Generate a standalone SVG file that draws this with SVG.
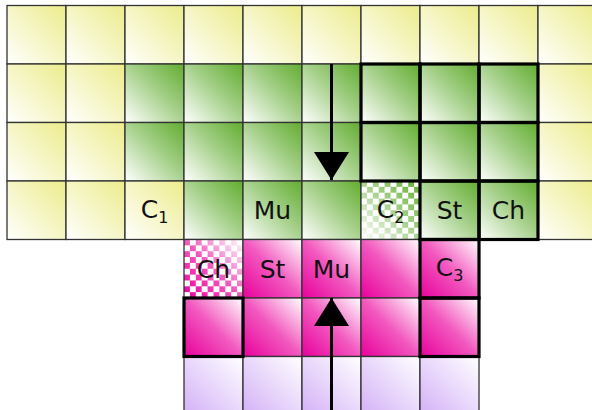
<svg xmlns="http://www.w3.org/2000/svg" width="592" height="410" viewBox="0 0 592 410">
  <style>
    .cell { stroke: #333; stroke-width: 1.3; }
    .y { fill: url(#gy); }
    .g { fill: url(#gg); }
    .m { fill: url(#gm); }
    .l { fill: url(#gl); }
    .bg { fill: #fff; stroke: none; }
    .bold { fill: none; stroke: #000; stroke-width: 3.2; }
    .lbl { font-family: "DejaVu Sans", Verdana, sans-serif; font-size: 25px; fill: #111; text-anchor: middle; }
    .sub { font-size: 16px; }
    .arrow { stroke: #000; stroke-width: 3; fill: none; marker-end: url(#head); }
  </style>
  <defs>
    <linearGradient id="gy" x1="0" y1="1" x2="1" y2="0">
      <stop offset="0" stop-color="#ffffff"/>
      <stop offset="1" stop-color="#ecec8c"/>
    </linearGradient>
    <linearGradient id="gg" x1="0" y1="1" x2="1" y2="0">
      <stop offset="0" stop-color="#ffffff"/>
      <stop offset="0.55" stop-color="#a3cf87"/>
      <stop offset="1" stop-color="#62ad30"/>
    </linearGradient>
    <linearGradient id="gm" x1="0" y1="1" x2="1" y2="0">
      <stop offset="0" stop-color="#e8009c"/>
      <stop offset="0.5" stop-color="#f259bf"/>
      <stop offset="1" stop-color="#ffffff"/>
    </linearGradient>
    <linearGradient id="gl" x1="0" y1="1" x2="1" y2="0">
      <stop offset="0" stop-color="#d3b0f7"/>
      <stop offset="1" stop-color="#ffffff"/>
    </linearGradient>
    <!-- checkerboard masks, aligned to their cells -->
    <pattern id="chkA" patternUnits="userSpaceOnUse" x="361" y="181" width="11.8" height="11.7">
      <rect x="0" y="0" width="5.9" height="5.85" fill="#fff"/>
      <rect x="5.9" y="5.85" width="5.9" height="5.85" fill="#fff"/>
    </pattern>
    <pattern id="chkB" patternUnits="userSpaceOnUse" x="184" y="239.5" width="11.8" height="11.7">
      <rect x="0" y="0" width="5.9" height="5.85" fill="#fff"/>
      <rect x="5.9" y="5.85" width="5.9" height="5.85" fill="#fff"/>
    </pattern>
    <mask id="maskA" maskUnits="userSpaceOnUse" x="361" y="181" width="59" height="58.5">
      <rect x="361" y="181" width="59" height="58.5" fill="url(#chkA)"/>
    </mask>
    <mask id="maskB" maskUnits="userSpaceOnUse" x="184" y="239.5" width="59" height="58.5">
      <rect x="184" y="239.5" width="59" height="58.5" fill="url(#chkB)"/>
    </mask>
    <marker id="head" markerUnits="userSpaceOnUse" markerWidth="30" markerHeight="36" refX="28" refY="17.5" orient="auto" viewBox="0 0 30 36">
      <path d="M0,0 L28,17.5 L0,35 Z" fill="#000"/>
    </marker>
  </defs>

  <!-- row 0 -->
  <g id="r0c0"><rect class="cell y" x="7" y="5.5" width="59" height="58.5"/></g>
  <g id="r0c1"><rect class="cell y" x="66" y="5.5" width="59" height="58.5"/></g>
  <g id="r0c2"><rect class="cell y" x="125" y="5.5" width="59" height="58.5"/></g>
  <g id="r0c3"><rect class="cell y" x="184" y="5.5" width="59" height="58.5"/></g>
  <g id="r0c4"><rect class="cell y" x="243" y="5.5" width="59" height="58.5"/></g>
  <g id="r0c5"><rect class="cell y" x="302" y="5.5" width="59" height="58.5"/></g>
  <g id="r0c6"><rect class="cell y" x="361" y="5.5" width="59" height="58.5"/></g>
  <g id="r0c7"><rect class="cell y" x="420" y="5.5" width="59" height="58.5"/></g>
  <g id="r0c8"><rect class="cell y" x="479" y="5.5" width="59" height="58.5"/></g>
  <g id="r0c9"><rect class="cell y" x="538" y="5.5" width="59" height="58.5"/></g>

  <!-- row 1 -->
  <g id="r1c0"><rect class="cell y" x="7" y="64" width="59" height="58.5"/></g>
  <g id="r1c1"><rect class="cell y" x="66" y="64" width="59" height="58.5"/></g>
  <g id="r1c2"><rect class="cell g" x="125" y="64" width="59" height="58.5"/></g>
  <g id="r1c3"><rect class="cell g" x="184" y="64" width="59" height="58.5"/></g>
  <g id="r1c4"><rect class="cell g" x="243" y="64" width="59" height="58.5"/></g>
  <g id="r1c5"><rect class="cell g" x="302" y="64" width="59" height="58.5"/></g>
  <g id="r1c6"><rect class="cell g" x="361" y="64" width="59" height="58.5"/></g>
  <g id="r1c7"><rect class="cell g" x="420" y="64" width="59" height="58.5"/></g>
  <g id="r1c8"><rect class="cell g" x="479" y="64" width="59" height="58.5"/></g>
  <g id="r1c9"><rect class="cell y" x="538" y="64" width="59" height="58.5"/></g>

  <!-- row 2 -->
  <g id="r2c0"><rect class="cell y" x="7" y="122.5" width="59" height="58.5"/></g>
  <g id="r2c1"><rect class="cell y" x="66" y="122.5" width="59" height="58.5"/></g>
  <g id="r2c2"><rect class="cell g" x="125" y="122.5" width="59" height="58.5"/></g>
  <g id="r2c3"><rect class="cell g" x="184" y="122.5" width="59" height="58.5"/></g>
  <g id="r2c4"><rect class="cell g" x="243" y="122.5" width="59" height="58.5"/></g>
  <g id="r2c5"><rect class="cell g" x="302" y="122.5" width="59" height="58.5"/></g>
  <g id="r2c6"><rect class="cell g" x="361" y="122.5" width="59" height="58.5"/></g>
  <g id="r2c7"><rect class="cell g" x="420" y="122.5" width="59" height="58.5"/></g>
  <g id="r2c8"><rect class="cell g" x="479" y="122.5" width="59" height="58.5"/></g>
  <g id="r2c9"><rect class="cell y" x="538" y="122.5" width="59" height="58.5"/></g>

  <!-- row 3 -->
  <g id="r3c0"><rect class="cell y" x="7" y="181" width="59" height="58.5"/></g>
  <g id="r3c1"><rect class="cell y" x="66" y="181" width="59" height="58.5"/></g>
  <g id="r3c2"><rect class="cell y" x="125" y="181" width="59" height="58.5"/>
    <text class="lbl" x="154.5" y="217.5">C<tspan class="sub" dy="5">1</tspan></text></g>
  <g id="r3c3"><rect class="cell g" x="184" y="181" width="59" height="58.5"/></g>
  <g id="r3c4"><rect class="cell g" x="243" y="181" width="59" height="58.5"/>
    <text class="lbl" x="272.5" y="219">Mu</text></g>
  <g id="r3c5"><rect class="cell g" x="302" y="181" width="59" height="58.5"/></g>
  <g id="r3c6"><rect class="bg" x="361" y="181" width="59" height="58.5"/>
    <rect x="361" y="181" width="59" height="58.5" fill="url(#gg)" mask="url(#maskA)"/>
    <rect class="cell" x="361" y="181" width="59" height="58.5" fill="none"/>
    <text class="lbl" x="390.5" y="217.5">C<tspan class="sub" dy="5">2</tspan></text></g>
  <g id="r3c7"><rect class="cell g" x="420" y="181" width="59" height="58.5"/>
    <text class="lbl" x="449.5" y="219">St</text></g>
  <g id="r3c8"><rect class="cell g" x="479" y="181" width="59" height="58.5"/>
    <text class="lbl" x="508.5" y="219">Ch</text></g>
  <g id="r3c9"><rect class="cell y" x="538" y="181" width="59" height="58.5"/></g>

  <!-- row 4 -->
  <g id="r4c3"><rect class="bg" x="184" y="239.5" width="59" height="58.5"/>
    <rect x="184" y="239.5" width="59" height="58.5" fill="url(#gm)" mask="url(#maskB)"/>
    <rect class="cell" x="184" y="239.5" width="59" height="58.5" fill="none"/>
    <text class="lbl" x="213.5" y="278">Ch</text></g>
  <g id="r4c4"><rect class="cell m" x="243" y="239.5" width="59" height="58.5"/>
    <text class="lbl" x="272.5" y="278">St</text></g>
  <g id="r4c5"><rect class="cell m" x="302" y="239.5" width="59" height="58.5"/>
    <text class="lbl" x="331.5" y="278">Mu</text></g>
  <g id="r4c6"><rect class="cell m" x="361" y="239.5" width="59" height="58.5"/></g>
  <g id="r4c7"><rect class="cell m" x="420" y="239.5" width="59" height="58.5"/>
    <text class="lbl" x="449.5" y="276">C<tspan class="sub" dy="5">3</tspan></text></g>

  <!-- row 5 -->
  <g id="r5c3"><rect class="cell m" x="184" y="298" width="59" height="58.5"/></g>
  <g id="r5c4"><rect class="cell m" x="243" y="298" width="59" height="58.5"/></g>
  <g id="r5c5"><rect class="cell m" x="302" y="298" width="59" height="58.5"/></g>
  <g id="r5c6"><rect class="cell m" x="361" y="298" width="59" height="58.5"/></g>
  <g id="r5c7"><rect class="cell m" x="420" y="298" width="59" height="58.5"/></g>

  <!-- row 6 -->
  <g id="r6c3"><rect class="cell l" x="184" y="356.5" width="59" height="58.5"/></g>
  <g id="r6c4"><rect class="cell l" x="243" y="356.5" width="59" height="58.5"/></g>
  <g id="r6c5"><rect class="cell l" x="302" y="356.5" width="59" height="58.5"/></g>
  <g id="r6c6"><rect class="cell l" x="361" y="356.5" width="59" height="58.5"/></g>
  <g id="r6c7"><rect class="cell l" x="420" y="356.5" width="59" height="58.5"/></g>

  <!-- highlighted cell outlines -->
  <g id="outlines">
    <rect class="bold" x="361" y="64" width="59" height="58.5"/>
    <rect class="bold" x="420" y="64" width="59" height="58.5"/>
    <rect class="bold" x="479" y="64" width="59" height="58.5"/>
    <rect class="bold" x="361" y="122.5" width="59" height="58.5"/>
    <rect class="bold" x="420" y="122.5" width="59" height="58.5"/>
    <rect class="bold" x="479" y="122.5" width="59" height="58.5"/>
    <rect class="bold" x="420" y="181" width="59" height="58.5"/>
    <rect class="bold" x="479" y="181" width="59" height="58.5"/>
    <rect class="bold" x="420" y="239.5" width="59" height="58.5"/>
    <rect class="bold" x="420" y="298" width="59" height="58.5"/>
    <rect class="bold" x="184" y="298" width="59" height="58.5"/>
  </g>

  <!-- connectors -->
  <g id="connectors">
    <line class="arrow" x1="331.5" y1="64" x2="331.5" y2="180"/>
    <line class="arrow" x1="331.5" y1="412" x2="331.5" y2="298"/>
  </g>
</svg>
